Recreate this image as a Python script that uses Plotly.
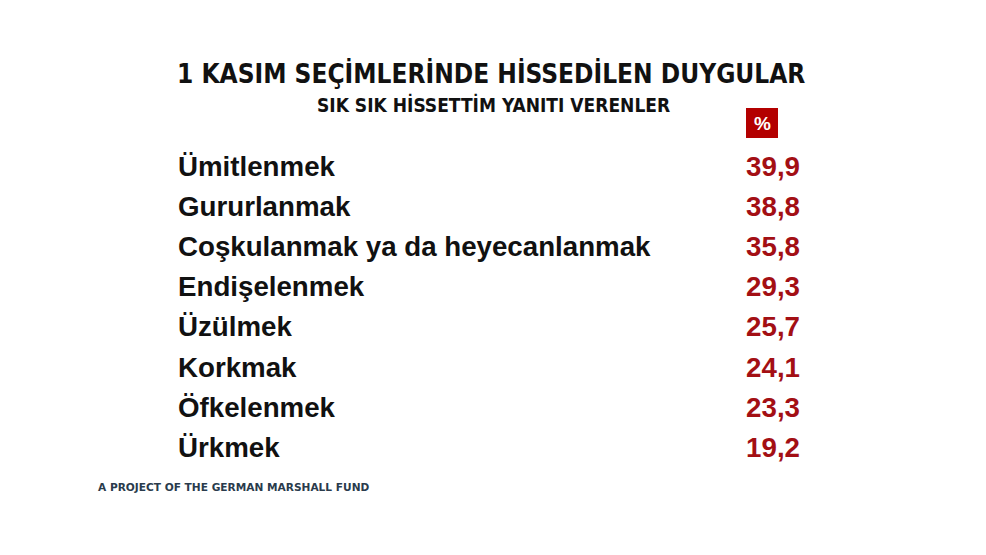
import plotly.graph_objects as go

# Data
feelings = [
    "Ümitlenmek",
    "Gururlanmak",
    "Coşkulanmak ya da heyecanlanmak",
    "Endişelenmek",
    "Üzülmek",
    "Korkmak",
    "Öfkelenmek",
    "Ürkmek",
]
shares = [39.9, 38.8, 35.8, 29.3, 25.7, 24.1, 23.3, 19.2]

title_text = "1 KASIM SEÇİMLERİNDE HİSSEDİLEN DUYGULAR"
subtitle_text = "SIK SIK HİSSETTİM YANITI VERENLER"
source_text = "A PROJECT OF THE GERMAN MARSHALL FUND"

RED = "#a30f14"
W, H = 986, 555
PAGE = 8  # default body margin of the html page

rows = list(range(len(feelings)))
value_labels = [f"{v:.1f}".replace(".", ",") for v in shares]


def px(x):
    return (x - PAGE) / W


def py(y):
    return 1 - (y - PAGE) / H


fig = go.Figure()

# Feeling labels
fig.add_trace(
    go.Scatter(
        x=[0.0] * len(feelings),
        y=rows,
        mode="text",
        text=feelings,
        textposition="middle right",
        textfont=dict(family="Liberation Sans", size=27.7, color="#111111", weight="bold"),
        hoverinfo="skip",
    )
)

# Values
fig.add_trace(
    go.Scatter(
        x=[1.0] * len(shares),
        y=rows,
        mode="text",
        text=value_labels,
        textposition="middle left",
        textfont=dict(family="Liberation Sans", size=27.7, color=RED, weight="bold"),
        hoverinfo="skip",
    )
)

# "%" header box
fig.add_shape(
    type="rect", xref="paper", yref="paper",
    x0=px(746), x1=px(778), y0=py(138), y1=py(108),
    fillcolor="#b30000", line_width=0, layer="below",
)
fig.add_annotation(
    text="%", xref="paper", yref="paper", x=px(762), y=py(123),
    xanchor="center", yanchor="middle", showarrow=False,
    font=dict(family="Liberation Sans", size=19, color="white", weight="bold"),
)

# Titles and footer
fig.add_annotation(
    text=title_text, xref="paper", yref="paper", x=px(491), y=py(73),
    xanchor="center", yanchor="middle", showarrow=False,
    font=dict(family="DejaVu Sans Condensed", size=26, color="#111111", weight="bold"),
)
fig.add_annotation(
    text=subtitle_text, xref="paper", yref="paper", x=px(493), y=py(104),
    xanchor="center", yanchor="middle", showarrow=False,
    font=dict(family="DejaVu Sans Condensed", size=19, color="#111111", weight="bold"),
)
fig.add_annotation(
    text=source_text, xref="paper", yref="paper", x=px(96), y=py(487),
    xanchor="left", yanchor="middle", showarrow=False,
    font=dict(family="DejaVu Sans", size=10.6, color="#2a3b4c", weight="bold"),
)

# Row i sits at pixel 161 + 40.14 * i inside the figure; labels span 170..792
row_px, row_step = 161, 40.14
left_px, right_px = 170, 792
span = right_px - left_px

fig.update_layout(
    width=W,
    height=H,
    margin=dict(l=0, r=0, t=0, b=0),
    paper_bgcolor="white",
    plot_bgcolor="white",
    showlegend=False,
    xaxis=dict(range=[-left_px / span, (W - left_px) / span], visible=False, fixedrange=True),
    yaxis=dict(range=[(H - row_px) / row_step, -row_px / row_step], visible=False, fixedrange=True),
)

fig.write_html("out.html")
